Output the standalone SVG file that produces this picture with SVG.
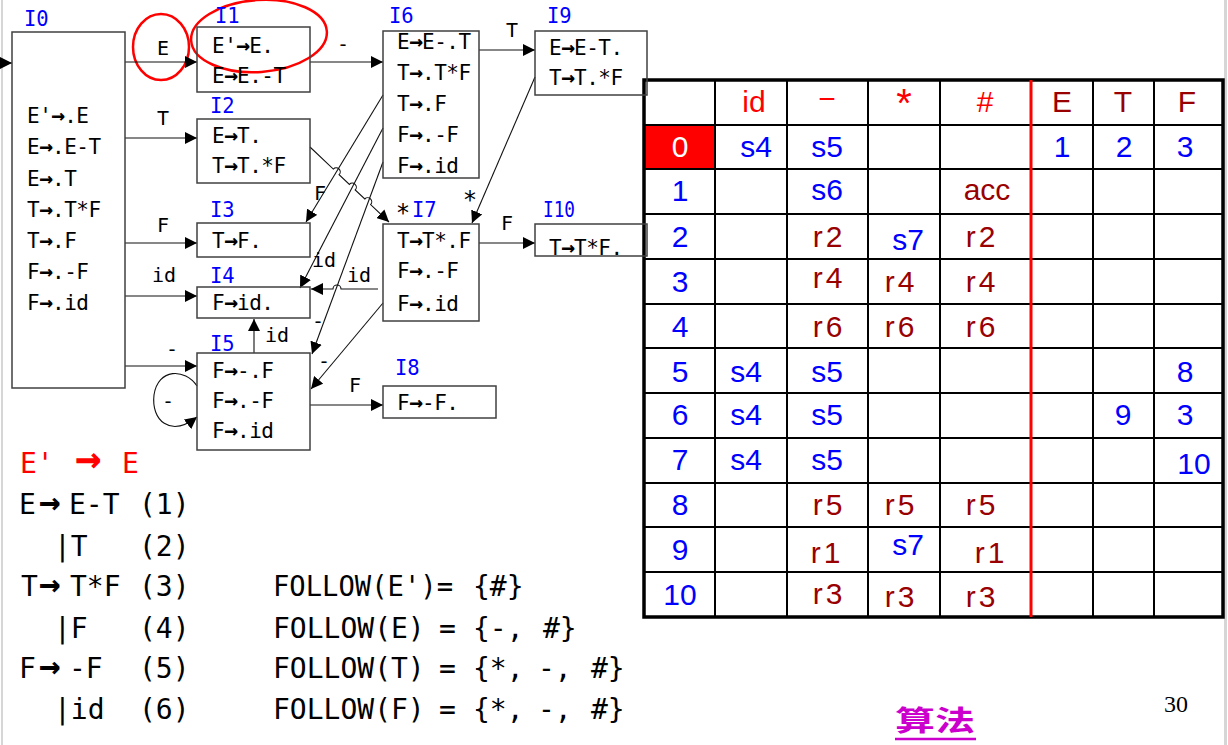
<svg xmlns="http://www.w3.org/2000/svg" width="1228" height="745" viewBox="0 0 1228 745">
<defs>
<marker id="ah" markerUnits="userSpaceOnUse" markerWidth="12" markerHeight="12" refX="12" refY="6" orient="auto"><path d="M0,0 L12,6 L0,12 z" fill="#000"/></marker>
<style>
.box{fill:none;stroke:#404040;stroke-width:1.5}
.nt{font-family:"DejaVu Sans Mono",monospace;font-size:21px;letter-spacing:-0.5px}
.ar{font-weight:bold;font-size:23px;letter-spacing:-1px}
.lb{font-family:"DejaVu Sans Mono",monospace;font-size:20.5px;fill:#0000FF}
.cl{font-family:"DejaVu Sans Mono",monospace;font-size:20px;text-anchor:middle}
.st{font-size:24px}
.cn{fill:none;stroke:#111;stroke-width:1.1;marker-end:url(#ah)}
.g{font-family:"DejaVu Sans Mono",monospace;font-size:28px}
.ga{font-size:36px;font-weight:bold}
.t{font-family:"Liberation Sans",Arial,sans-serif;font-size:30px;text-anchor:middle}
.ts{font-size:40px}
.rs{letter-spacing:3px}
.b{fill:#0000FF}.r{fill:#FF0000}.d{fill:#990000}.w{fill:#FFFFFF}
.grid{stroke:#000;stroke-width:2}
.ell{fill:none;stroke:#FF0000;stroke-width:2.5}
</style>
</defs>
<rect x="0" y="0" width="1228" height="745" fill="#FFFFFF"/>
<rect x="1" y="0" width="2" height="745" fill="#D6D6D6"/>
<rect x="1224" y="0" width="3" height="745" fill="#D6D6D6"/>

<!-- table -->
<g id="table">
<rect x="645" y="126" width="69" height="42" fill="#FF0000"/>
<g class="grid">
<line x1="644" y1="125" x2="1223" y2="125"/>
<line x1="644" y1="169" x2="1223" y2="169"/>
<line x1="644" y1="214" x2="1223" y2="214"/>
<line x1="644" y1="259" x2="1223" y2="259"/>
<line x1="644" y1="304" x2="1223" y2="304"/>
<line x1="644" y1="348" x2="1223" y2="348"/>
<line x1="644" y1="393" x2="1223" y2="393"/>
<line x1="644" y1="438" x2="1223" y2="438"/>
<line x1="644" y1="483" x2="1223" y2="483"/>
<line x1="644" y1="527" x2="1223" y2="527"/>
<line x1="644" y1="572" x2="1223" y2="572"/>
<line x1="715" y1="80" x2="715" y2="617"/>
<line x1="787" y1="80" x2="787" y2="617"/>
<line x1="868" y1="80" x2="868" y2="617"/>
<line x1="940" y1="80" x2="940" y2="617"/>
<line x1="1093" y1="80" x2="1093" y2="617"/>
<line x1="1154" y1="80" x2="1154" y2="617"/>
</g>
<rect x="644" y="80" width="579" height="537" fill="none" stroke="#000" stroke-width="3.5"/>
<line x1="1031" y1="80" x2="1031" y2="617" stroke="#FF0000" stroke-width="3"/>
<text class="t r" x="754" y="112">id</text>
<text class="t r" x="827" y="109">−</text>
<text class="t ts r" x="904" y="117">*</text>
<text class="t r" x="985" y="112">#</text>
<text class="t d" x="1062" y="112">E</text>
<text class="t d" x="1123" y="112">T</text>
<text class="t d" x="1187" y="112">F</text>
<text class="t w" x="680" y="157">0</text>
<text class="t b" x="756" y="157">s4</text>
<text class="t b" x="827" y="157">s5</text>
<text class="t b" x="1062" y="157">1</text>
<text class="t b" x="1124" y="157">2</text>
<text class="t b" x="1185" y="157">3</text>
<text class="t b" x="680" y="201">1</text>
<text class="t b" x="827" y="200">s6</text>
<text class="t d" x="987" y="200">acc</text>
<text class="t b" x="680" y="247">2</text>
<text class="t d rs" x="829" y="247">r2</text>
<text class="t b" x="908" y="250">s7</text>
<text class="t d rs" x="982" y="247">r2</text>
<text class="t b" x="680" y="292">3</text>
<text class="t d rs" x="829" y="288">r4</text>
<text class="t d rs" x="901" y="292">r4</text>
<text class="t d rs" x="982" y="292">r4</text>
<text class="t b" x="680" y="337">4</text>
<text class="t d rs" x="829" y="337">r6</text>
<text class="t d rs" x="901" y="337">r6</text>
<text class="t d rs" x="982" y="337">r6</text>
<text class="t b" x="680" y="382">5</text>
<text class="t b" x="746" y="382">s4</text>
<text class="t b" x="827" y="382">s5</text>
<text class="t b" x="1185" y="382">8</text>
<text class="t b" x="680" y="425">6</text>
<text class="t b" x="746" y="425">s4</text>
<text class="t b" x="827" y="425">s5</text>
<text class="t b" x="1123" y="425">9</text>
<text class="t b" x="1185" y="425">3</text>
<text class="t b" x="680" y="470">7</text>
<text class="t b" x="746" y="470">s4</text>
<text class="t b" x="827" y="470">s5</text>
<text class="t b" x="1194" y="474">10</text>
<text class="t b" x="680" y="515">8</text>
<text class="t d rs" x="829" y="515">r5</text>
<text class="t d rs" x="901" y="515">r5</text>
<text class="t d rs" x="982" y="515">r5</text>
<text class="t b" x="680" y="560">9</text>
<text class="t d rs" x="827" y="563">r1</text>
<text class="t b" x="908" y="555">s7</text>
<text class="t d rs" x="991" y="563">r1</text>
<text class="t b" x="680" y="605">10</text>
<text class="t d rs" x="829" y="604">r3</text>
<text class="t d rs" x="901" y="607">r3</text>
<text class="t d rs" x="982" y="607">r3</text>
</g>

<!-- highlight ellipses -->
<ellipse class="ell" cx="161" cy="47" rx="28" ry="33"/>
<ellipse class="ell" cx="259" cy="36" rx="68" ry="36" transform="rotate(-4 259 36)"/>

<!-- connectors -->
<g id="connectors">
<line class="cn" x1="0" y1="63" x2="12" y2="63"/>
<line class="cn" x1="125" y1="62" x2="197" y2="62"/>
<line class="cn" x1="125" y1="138" x2="197" y2="138"/>
<line class="cn" x1="125" y1="243" x2="197" y2="243"/>
<line class="cn" x1="125" y1="296" x2="197" y2="296"/>
<line class="cn" x1="125" y1="366" x2="197" y2="366"/>
<path class="cn" d="M197,386 C185,368 158,368 154,395 C151,420 170,438 197,417"/>
<line class="cn" x1="254" y1="353" x2="254" y2="319"/>
<line class="cn" x1="310" y1="405" x2="383" y2="405"/>
<line class="cn" x1="310" y1="62" x2="383" y2="62"/>
<line class="cn" x1="479" y1="50" x2="535" y2="50"/>
<line class="cn" x1="383" y1="95" x2="306" y2="222"/>
<line class="cn" x1="383" y1="128" x2="300" y2="288"/>
<line class="cn" x1="383" y1="162" x2="312" y2="354"/>
<line class="cn" x1="383" y1="303" x2="311" y2="389"/>
<path class="cn" d="M378,289 L341,289 A4,4 0 0 0 333,289 L311,289"/>
<line class="cn" x1="479" y1="243" x2="535" y2="243"/>
<line class="cn" x1="535" y1="77" x2="472" y2="223"/>
<path class="cn" d="M310,147 L333.3,169.1 A4,4 0 0 1 339.1,174.7 L349.4,184.4 A4,4 0 0 1 355.2,190 L364.8,199 A4,4 0 0 1 370.6,204.6 L389,222"/>
<text class="cl" x="163" y="55">E</text>
<text class="cl" x="163" y="125">T</text>
<text class="cl" x="163" y="232">F</text>
<text class="cl" x="164" y="282">id</text>
<text class="cl" x="172" y="356">-</text>
<text class="cl" x="168" y="408">-</text>
<text class="cl" x="277" y="342">id</text>
<text class="cl" x="355" y="392">F</text>
<text class="cl" x="343" y="51">-</text>
<text class="cl" x="512" y="37">T</text>
<text class="cl" x="320" y="200">F</text>
<text class="cl" x="324" y="267">id</text>
<text class="cl" x="318" y="328">-</text>
<text class="cl" x="324" y="368">-</text>
<text class="cl" x="359" y="282">id</text>
<text class="cl" x="507" y="230">F</text>
<text class="cl st" x="470" y="208">*</text>
<text class="cl st" x="403" y="221">*</text>
</g>

<!-- nodes -->
<g id="I0">
<rect class="box" x="12" y="32" width="113" height="356"/>
<text class="lb" x="24" y="26">I0</text>
<text class="nt" x="27" y="123">E'<tspan class="ar">→</tspan>.E</text>
<text class="nt" x="27" y="154">E<tspan class="ar">→</tspan>.E-T</text>
<text class="nt" x="27" y="186">E<tspan class="ar">→</tspan>.T</text>
<text class="nt" x="27" y="217">T<tspan class="ar">→</tspan>.T*F</text>
<text class="nt" x="27" y="248">T<tspan class="ar">→</tspan>.F</text>
<text class="nt" x="27" y="279">F<tspan class="ar">→</tspan>.-F</text>
<text class="nt" x="27" y="310">F<tspan class="ar">→</tspan>.id</text>
</g>
<g id="I1">
<rect class="box" x="197" y="27" width="113" height="65"/>
<text class="lb" x="215" y="23">I1</text>
<text class="nt" x="212" y="53">E'<tspan class="ar">→</tspan>E.</text>
<text class="nt" x="212" y="83">E<tspan class="ar">→</tspan>E.-T</text>
</g>
<g id="I2">
<rect class="box" x="197" y="119" width="113" height="64"/>
<text class="lb" x="210" y="113">I2</text>
<text class="nt" x="212" y="143">E<tspan class="ar">→</tspan>T.</text>
<text class="nt" x="212" y="173">T<tspan class="ar">→</tspan>T.*F</text>
</g>
<g id="I3">
<rect class="box" x="197" y="223" width="113" height="34"/>
<text class="lb" x="210" y="217">I3</text>
<text class="nt" x="212" y="248">T<tspan class="ar">→</tspan>F.</text>
</g>
<g id="I4">
<rect class="box" x="197" y="287" width="113" height="31"/>
<text class="lb" x="210" y="283">I4</text>
<text class="nt" x="212" y="310">F<tspan class="ar">→</tspan>id.</text>
</g>
<g id="I5">
<rect class="box" x="197" y="353" width="113" height="97"/>
<text class="lb" x="210" y="351">I5</text>
<text class="nt" x="212" y="378">F<tspan class="ar">→</tspan>-.F</text>
<text class="nt" x="212" y="408">F<tspan class="ar">→</tspan>.-F</text>
<text class="nt" x="212" y="438">F<tspan class="ar">→</tspan>.id</text>
</g>
<g id="I6">
<rect class="box" x="383" y="31" width="96" height="147"/>
<text class="lb" x="389" y="23">I6</text>
<text class="nt" x="397" y="49">E<tspan class="ar">→</tspan>E-.T</text>
<text class="nt" x="397" y="80">T<tspan class="ar">→</tspan>.T*F</text>
<text class="nt" x="397" y="111">T<tspan class="ar">→</tspan>.F</text>
<text class="nt" x="397" y="142">F<tspan class="ar">→</tspan>.-F</text>
<text class="nt" x="397" y="173">F<tspan class="ar">→</tspan>.id</text>
</g>
<g id="I7">
<rect class="box" x="383" y="224" width="96" height="97"/>
<text class="lb" x="412" y="217">I7</text>
<text class="nt" x="397" y="248">T<tspan class="ar">→</tspan>T*.F</text>
<text class="nt" x="397" y="278">F<tspan class="ar">→</tspan>.-F</text>
<text class="nt" x="397" y="311">F<tspan class="ar">→</tspan>.id</text>
</g>
<g id="I8">
<rect class="box" x="383" y="386" width="113" height="32"/>
<text class="lb" x="395" y="375">I8</text>
<text class="nt" x="397" y="410">F<tspan class="ar">→</tspan>-F.</text>
</g>
<g id="I9">
<rect class="box" x="535" y="31" width="112" height="64"/>
<text class="lb" x="547" y="23">I9</text>
<text class="nt" x="549" y="55">E<tspan class="ar">→</tspan>E-T.</text>
<text class="nt" x="549" y="85">T<tspan class="ar">→</tspan>T.*F</text>
</g>
<g id="I10">
<rect class="box" x="535" y="224" width="112" height="32"/>
<text class="lb" x="543" y="217" textLength="32" lengthAdjust="spacingAndGlyphs">I10</text>
<text class="nt" x="549" y="255">T<tspan class="ar">→</tspan>T*F.</text>
</g>

<!-- grammar -->
<g id="grammar">
<text class="g r" y="473"><tspan x="20">E'</tspan><tspan x="75" font-size="44" font-weight="bold">→</tspan><tspan x="122">E</tspan></text>
<text class="g" y="514"><tspan x="19">E</tspan><tspan x="39" class="ga">→</tspan><tspan x="69">E-T</tspan><tspan x="139">(1)</tspan></text>
<text class="g" y="556"><tspan x="54">|T</tspan><tspan x="139">(2)</tspan></text>
<text class="g" y="596"><tspan x="21">T</tspan><tspan x="39" class="ga">→</tspan><tspan x="70">T*F</tspan><tspan x="139">(3)</tspan></text>
<text class="g" y="638"><tspan x="54">|F</tspan><tspan x="139">(4)</tspan></text>
<text class="g" y="678"><tspan x="19">F</tspan><tspan x="39" class="ga">→</tspan><tspan x="69">-F</tspan><tspan x="139">(5)</tspan></text>
<text class="g" y="719"><tspan x="54">|id</tspan><tspan x="139">(6)</tspan></text>
</g>

<!-- follow sets -->
<g id="follow">
<text class="g" x="273" y="596" textLength="180" lengthAdjust="spacingAndGlyphs">FOLLOW(E')=</text>
<text class="g" x="473" y="596">{#}</text>
<text class="g" x="273" y="638">FOLLOW(E)</text>
<text class="g" x="439" y="638">=</text>
<text class="g" x="473" y="638">{-,</text>
<text class="g" x="543" y="638">#}</text>
<text class="g" x="273" y="678">FOLLOW(T)</text>
<text class="g" x="439" y="678">=</text>
<text class="g" x="473" y="678">{*,</text>
<text class="g" x="538" y="678">-,</text>
<text class="g" x="591" y="678">#}</text>
<text class="g" x="273" y="719">FOLLOW(F)</text>
<text class="g" x="439" y="719">=</text>
<text class="g" x="473" y="719">{*,</text>
<text class="g" x="538" y="719">-,</text>
<text class="g" x="591" y="719">#}</text>
</g>

<text x="895" y="731" font-family="'Liberation Sans','Noto Sans CJK SC',sans-serif" font-weight="bold" font-size="28" fill="#CC00CC" textLength="80" lengthAdjust="spacingAndGlyphs">算法</text>
<line x1="895" y1="739" x2="976" y2="739" stroke="#CC00CC" stroke-width="2.5"/>
<text x="1164" y="712" font-family="'Liberation Serif','Times New Roman',serif" font-size="24" fill="#000">30</text>
</svg>
